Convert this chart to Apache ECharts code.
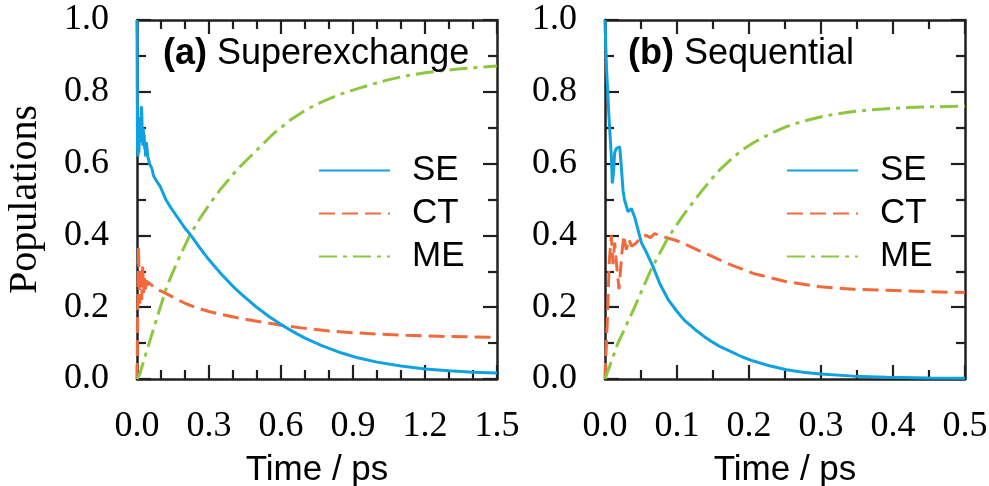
<!DOCTYPE html>
<html>
<head>
<meta charset="utf-8">
<script src="https://cdn.jsdelivr.net/npm/echarts@6/dist/echarts.min.js"></script>
<style>
    html, body {margin: 0; padding: 0; background: #fff;}
    #chart {width: 989px; height: 486px;}
</style>
</head>
<body>
<div id="chart"></div>
<script>
// ///////////////////////////////////////////
// data: [time (ps), population]

// (a) superexchange
var seA = [[0, 1.0], [0.001, 0.80], [0.002, 0.64], [0.003, 0.66], [0.004, 0.62], [0.006, 0.68],
    [0.008, 0.63], [0.010, 0.69], [0.012, 0.66], [0.014, 0.73], [0.016, 0.70], [0.018, 0.76],
    [0.020, 0.74], [0.022, 0.68], [0.024, 0.65], [0.026, 0.70], [0.028, 0.67], [0.030, 0.68],
    [0.032, 0.64], [0.034, 0.66], [0.036, 0.62], [0.039, 0.66], [0.042, 0.64], [0.045, 0.62],
    [0.048, 0.615], [0.052, 0.60], [0.056, 0.601], [0.0625, 0.585], [0.069, 0.566], [0.08, 0.553],
    [0.097, 0.536], [0.12, 0.50], [0.14, 0.478], [0.167, 0.452], [0.2, 0.42], [0.22, 0.404],
    [0.26, 0.367], [0.3, 0.332], [0.35, 0.293], [0.4, 0.258], [0.43, 0.239], [0.5, 0.199],
    [0.55, 0.174], [0.6, 0.152], [0.65, 0.132], [0.7, 0.114], [0.77, 0.093], [0.85, 0.073],
    [0.92, 0.059], [1.0, 0.047], [1.1, 0.036], [1.2, 0.028], [1.3, 0.023], [1.4, 0.019], [1.5, 0.017]];
var ctA = [[0, 0], [0.002, 0.12], [0.004, 0.25], [0.006, 0.37], [0.008, 0.30], [0.010, 0.24],
    [0.012, 0.21], [0.014, 0.27], [0.016, 0.31], [0.018, 0.25], [0.020, 0.22], [0.022, 0.29],
    [0.024, 0.32], [0.026, 0.26], [0.028, 0.24], [0.030, 0.29], [0.033, 0.27], [0.036, 0.25],
    [0.039, 0.28], [0.042, 0.26], [0.046, 0.27], [0.05, 0.265], [0.06, 0.262], [0.07, 0.256],
    [0.08, 0.25], [0.095, 0.246], [0.11, 0.242], [0.13, 0.235], [0.15, 0.228], [0.175, 0.219],
    [0.2, 0.211], [0.25, 0.198], [0.3, 0.188], [0.35, 0.180], [0.43, 0.169], [0.5, 0.161],
    [0.6, 0.150], [0.7, 0.141], [0.8, 0.134], [0.9, 0.129], [1.0, 0.125], [1.12, 0.122],
    [1.26, 0.119], [1.5, 0.116]];
var meA = [[0, 0], [0.0125, 0.016], [0.03, 0.055], [0.06, 0.12], [0.09, 0.185], [0.124, 0.257],
    [0.17, 0.33], [0.22, 0.40], [0.26, 0.445], [0.3, 0.485], [0.35, 0.53], [0.4, 0.57],
    [0.43, 0.592], [0.5, 0.638], [0.568, 0.683], [0.64, 0.722], [0.707, 0.751], [0.78, 0.775],
    [0.846, 0.793], [0.92, 0.809], [0.985, 0.822], [1.05, 0.834], [1.124, 0.845], [1.2, 0.853],
    [1.26, 0.858], [1.35, 0.864], [1.42, 0.868], [1.5, 0.872]];

// (b) sequential
var seB = [[0, 1.0], [0.002, 0.87], [0.0055, 0.73], [0.0088, 0.62], [0.0102, 0.545], [0.012, 0.58],
    [0.0134, 0.63], [0.0157, 0.642], [0.0204, 0.647], [0.0227, 0.59], [0.025, 0.526], [0.027, 0.50],
    [0.032, 0.466], [0.0366, 0.475], [0.041, 0.452], [0.046, 0.415], [0.0505, 0.38], [0.057, 0.355],
    [0.0667, 0.313], [0.076, 0.266], [0.0875, 0.222], [0.1, 0.188], [0.11, 0.164], [0.125, 0.138],
    [0.138, 0.118], [0.15, 0.102], [0.16, 0.09], [0.175, 0.076], [0.19, 0.062], [0.206, 0.05],
    [0.23, 0.036], [0.252, 0.026], [0.275, 0.019], [0.299, 0.014], [0.345, 0.008], [0.391, 0.005],
    [0.45, 0.003], [0.5, 0.002]];
var ctB = [[0, 0], [0.003, 0.15], [0.006, 0.33], [0.0088, 0.40], [0.011, 0.32], [0.0134, 0.38],
    [0.016, 0.32], [0.0195, 0.25], [0.023, 0.34], [0.026, 0.40], [0.0296, 0.36], [0.033, 0.39],
    [0.037, 0.37], [0.043, 0.378], [0.05, 0.396], [0.057, 0.40], [0.063, 0.394], [0.069, 0.405],
    [0.076, 0.40], [0.088, 0.392], [0.1, 0.385], [0.115, 0.372], [0.129, 0.359], [0.145, 0.345],
    [0.16, 0.331], [0.175, 0.318], [0.206, 0.294], [0.252, 0.271], [0.299, 0.257], [0.345, 0.250],
    [0.391, 0.247], [0.45, 0.243], [0.5, 0.241]];
var meB = [[0, 0], [0.018, 0.10], [0.04, 0.195], [0.064, 0.305], [0.088, 0.395], [0.11, 0.46],
    [0.129, 0.51], [0.145, 0.55], [0.16, 0.584], [0.175, 0.612], [0.19, 0.637], [0.206, 0.658],
    [0.23, 0.684], [0.252, 0.703], [0.275, 0.718], [0.299, 0.73], [0.32, 0.738], [0.345, 0.745],
    [0.37, 0.75], [0.391, 0.753], [0.42, 0.756], [0.45, 0.758], [0.5, 0.760]];

var names = ['SE', 'CT', 'ME'];
var panelTitles = ['(a)', '(b)'];
var panelNames = [' Superexchange', ' Sequential'];
var xMax = [1.5, 0.5];
var xStep = [0.3, 0.1];
var xMinorSplit = [3, 2];


// ///////////////////////////////////////////
// styles
var FRAME = '#231f20';
var COLORS = {SE: '#10a2e0', CT: '#f26a3b', ME: '#8dc63f'};
var DASH = {SE: 'solid', CT: [16, 7], ME: [18, 6, 4, 6]};
var SERIF = '"Liberation Serif", "DejaVu Serif", serif';
var SANS = '"Liberation Sans", Arial, sans-serif';
var GRID_LEFT = [137, 605];

var chart = echarts.init(document.getElementById('chart'));

function frameAxis(gridIndex, pos, extra) {
    var ax = {
        gridIndex: gridIndex,
        position: pos,
        axisLine: {show: true, onZero: false, lineStyle: {color: FRAME, width: 2.5}},
        axisTick: {show: true, inside: true, length: 14, lineStyle: {color: FRAME, width: 2.2}},
        splitLine: {show: false},
        axisLabel: {show: false}
    };
    for (var k in extra) {
        ax[k] = extra[k];
    }
    return ax;
}

var xAxes = [];
var yAxes = [];
var grids = [];
var legends = [];
var titles = [];
[0, 1].forEach(function (i) {
    grids.push({left: GRID_LEFT[i], top: 20, width: 360, height: 359,
        containLabel: false, outerBoundsMode: 'none'});

    var xCommon = {type: 'value', min: 0, max: xMax[i], interval: xStep[i]};
    xCommon.minorTick = {show: true, splitNumber: xMinorSplit[i], length: 9,
        lineStyle: {color: FRAME, width: 2.2}};
    var xb = frameAxis(i, 'bottom', xCommon);
    xb.axisLabel = {show: true, margin: 30, color: '#000', fontFamily: SERIF, fontSize: 36,
        formatter: function (v) { return v.toFixed(1); }};
    xb.name = 'Time / ps';
    xb.nameLocation = 'middle';
    xb.nameGap = 74;
    xb.nameTextStyle = {color: '#000', fontFamily: SANS, fontSize: 35};
    xAxes.push(xb);
    xAxes.push(frameAxis(i, 'top', xCommon));

    var yCommon = {type: 'value', min: 0, max: 1, interval: 0.2};
    yCommon.minorTick = {show: true, splitNumber: 2, length: 9, lineStyle: {color: FRAME, width: 2.2}};
    var yl = frameAxis(i, 'left', yCommon);
    yl.axisLabel = {show: true, margin: 28, color: '#000', fontFamily: SERIF, fontSize: 36,
        formatter: function (v) { return v.toFixed(1); }};
    if (i === 0) {
        yl.name = 'Populations';
        yl.nameLocation = 'middle';
        yl.nameGap = 92;
        yl.nameTextStyle = {color: '#000', fontFamily: SERIF, fontSize: 40};
    }
    yAxes.push(yl);
    yAxes.push(frameAxis(i, 'right', yCommon));

    legends.push({
        orient: 'vertical',
        left: GRID_LEFT[i] + 176,
        top: 147,
        itemWidth: 71,
        itemHeight: 14,
        itemGap: 6,
        data: names,
        selectedMode: false,
        itemStyle: {opacity: 0},
        textStyle: {color: '#000', fontFamily: SANS, fontSize: 35, lineHeight: 37,
            padding: [0, 0, 0, 17]}
    });

    titles.push({
        left: GRID_LEFT[i] + 21 - (i === 1 ? 3 : 0),
        top: 31,
        text: '{b|' + panelTitles[i] + '}{r|' + panelNames[i] + '}',
        textStyle: {
            fontWeight: 'normal',
            rich: {
                b: {fontFamily: SANS, fontWeight: 'bold', fontSize: 36, color: '#000'},
                r: {fontFamily: SANS, fontWeight: 'normal', fontSize: 36, color: '#000'}
            }
        }
    });
});

// ///////////////////////////////////////////
// series
var panelData = [{SE: seA, CT: ctA, ME: meA}, {SE: seB, CT: ctB, ME: meB}];
var series = [];
[0, 1].forEach(function (i) {
    names.forEach(function (n) {
        series.push({
            name: n,
            type: 'line',
            xAxisIndex: i * 2,
            yAxisIndex: i * 2,
            data: panelData[i][n],
            showSymbol: false,
            symbol: 'none',
            z: n === 'SE' ? 3 : 2,
            lineStyle: {color: COLORS[n], width: 3, type: DASH[n]},
            itemStyle: {color: COLORS[n]}
        });
    });
});

chart.setOption({
    animation: false,
    title: titles,
    grid: grids,
    xAxis: xAxes,
    yAxis: yAxes,
    legend: legends,
    series: series
});
</script>
</body>
</html>
